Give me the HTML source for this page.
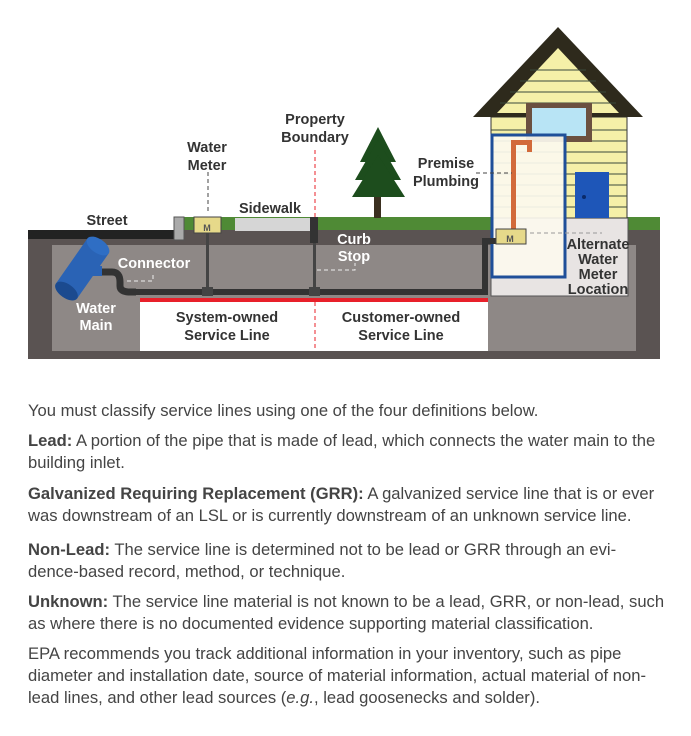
<!DOCTYPE html>
<html><head><meta charset="utf-8"><style>
body{margin:0;background:#fff;width:691px;height:736px;overflow:hidden;font-family:"Liberation Sans",sans-serif;}
.t{position:absolute;left:28px;color:#444;font-size:16.6px;line-height:22px;white-space:nowrap;}
.t b{color:#444;}
</style></head><body>
<svg width="691" height="380" style="position:absolute;left:0;top:0" font-family="Liberation Sans, sans-serif" font-weight="bold">
<rect x="28" y="230" width="632" height="129" fill="#5a5352"/>
<rect x="52" y="245" width="584" height="106" fill="#8e8886"/>
<rect x="28" y="230" width="148" height="9" fill="#222"/>
<rect x="184" y="217" width="476" height="13" fill="#4f8a35"/>
<rect x="174" y="217" width="10" height="23" fill="#aaa" stroke="#555"/>
<rect x="235" y="218" width="75" height="13" fill="#d6d6d6"/>
<rect x="310" y="217" width="8" height="26" fill="#333"/>
<rect x="491" y="218" width="137" height="78" fill="#e8e4e3" stroke="#555"/>
<rect x="491" y="117" width="136" height="101" fill="#f5f0a8" stroke="#333"/>
<g stroke="#3b4a3b" stroke-width="1">
<line x1="491" y1="130" x2="627" y2="130"/><line x1="491" y1="141" x2="627" y2="141"/><line x1="491" y1="152" x2="627" y2="152"/><line x1="491" y1="163" x2="627" y2="163"/><line x1="491" y1="174" x2="627" y2="174"/><line x1="491" y1="185" x2="627" y2="185"/><line x1="491" y1="196" x2="627" y2="196"/><line x1="491" y1="207" x2="627" y2="207"/>
</g>
<polygon points="558,27 473,117 643,117" fill="#2e2a1c"/>
<polygon points="558,48 497,113 619,113" fill="#f5f0a8"/>
<g stroke="#3b4a3b"><line x1="530" y1="70" x2="586" y2="70"/><line x1="520" y1="81" x2="596" y2="81"/><line x1="510" y1="92" x2="606" y2="92"/><line x1="500" y1="103" x2="616" y2="103"/></g>
<rect x="526" y="103" width="66" height="39" fill="#6b5040"/>
<rect x="532" y="108" width="54" height="28" fill="#b8e4f5"/>
<rect x="575" y="172" width="34" height="46" fill="#1e56b8"/>
<circle cx="584" cy="197" r="2" fill="#0a2a6a"/>
<rect x="492" y="135" width="73" height="142" fill="#fbf8ee" fill-opacity="0.92" stroke="#1f4f99" stroke-width="3"/>
<rect x="511" y="140" width="5" height="90" fill="#d26a3a"/>
<rect x="511" y="140" width="20" height="5" fill="#d26a3a"/>
<rect x="527" y="140" width="5" height="12" fill="#d26a3a"/>
<rect x="374" y="195" width="7" height="23" fill="#3b3020"/>
<polygon points="378,127 360,162 396,162" fill="#1d4d1d"/>
<polygon points="378,140 355,180 401,180" fill="#1d4d1d"/>
<polygon points="378,155 352,197 405,197" fill="#1d4d1d"/>
<rect x="136" y="289" width="351" height="6" fill="#333"/>
<rect x="482" y="238" width="6" height="57" fill="#333"/>
<rect x="482" y="238" width="16" height="6" fill="#333"/>
<rect x="206" y="233" width="3" height="57" fill="#444"/>
<rect x="313" y="243" width="3" height="47" fill="#444"/>
<rect x="202" y="287" width="11" height="9" fill="#444"/>
<rect x="309" y="287" width="11" height="9" fill="#444"/>
<path d="M100,272 L112,272 Q120,272 120,282 L120,286 Q120,292 130,292 L136,292" stroke="#333" stroke-width="7" fill="none"/>
<g transform="rotate(-55 80 270)"><rect x="55" y="258" width="55" height="26" fill="#2a63b5"/><ellipse cx="55" cy="271" rx="7" ry="13" fill="#1b4a8f"/><ellipse cx="110" cy="271" rx="7" ry="13" fill="#2f6ec4"/></g>
<rect x="88" y="266" width="14" height="10" fill="#2a63b5"/>
<rect x="194" y="217" width="27" height="16" fill="#e6d98a" stroke="#444"/>
<text x="207" y="231" font-size="9" fill="#555" text-anchor="middle">M</text>
<rect x="496" y="229" width="30" height="15" fill="#e6d98a" stroke="#444"/>
<text x="510" y="242" font-size="9" fill="#555" text-anchor="middle">M</text>
<rect x="140" y="302" width="348" height="49" fill="#fff"/>
<rect x="140" y="298" width="348" height="4" fill="#e8202a"/>
<line x1="315" y1="150" x2="315" y2="217" stroke="#e8202a" stroke-dasharray="4,3"/>
<line x1="315" y1="302" x2="315" y2="351" stroke="#e8202a" stroke-dasharray="4,3"/>
<g stroke="#444" stroke-dasharray="4,3" fill="none">
<line x1="208" y1="172" x2="208" y2="212"/>
<line x1="476" y1="173" x2="512" y2="173"/>
</g>
<g stroke="#eee" stroke-dasharray="4,3" fill="none">
<polyline points="127,281 153,281 153,272"/>
<polyline points="317,270 355,270 355,263"/>
<line x1="530" y1="233" x2="602" y2="233" stroke="#999"/>
</g>
<g fill="#333" font-size="14.5" text-anchor="middle">
<text x="207" y="152">Water</text><text x="207" y="170">Meter</text>
<text x="315" y="124">Property</text><text x="315" y="142">Boundary</text>
<text x="270" y="213">Sidewalk</text>
<text x="107" y="225">Street</text>
<text x="446" y="168">Premise</text><text x="446" y="186">Plumbing</text>
<text x="598" y="249">Alternate</text><text x="598" y="264">Water</text><text x="598" y="279">Meter</text><text x="598" y="294">Location</text>
<text x="227" y="322">System-owned</text><text x="227" y="340">Service Line</text>
<text x="401" y="322">Customer-owned</text><text x="401" y="340">Service Line</text>
</g>
<g fill="#fff" font-size="14.5" text-anchor="middle">
<text x="154" y="268">Connector</text>
<text x="96" y="313">Water</text><text x="96" y="330">Main</text>
<text x="354" y="244">Curb</text><text x="354" y="261">Stop</text>
</g>
</svg>
<div class="t" style="top:400px">You must classify service lines using one of the four definitions below.</div>
<div class="t" style="top:430px"><b>Lead:</b> A portion of the pipe that is made of lead, which connects the water main to the<br>building inlet.</div>
<div class="t" style="top:483px"><b>Galvanized Requiring Replacement (GRR):</b> A galvanized service line that is or ever<br>was downstream of an LSL or is currently downstream of an unknown service line.</div>
<div class="t" style="top:539px"><b>Non-Lead:</b> The service line is determined not to be lead or GRR through an evi-<br>dence-based record, method, or technique.</div>
<div class="t" style="top:591px"><b>Unknown:</b> The service line material is not known to be a lead, GRR, or non-lead, such<br>as where there is no documented evidence supporting material classification.</div>
<div class="t" style="top:643px">EPA recommends you track additional information in your inventory, such as pipe<br>diameter and installation date, source of material information, actual material of non-<br>lead lines, and other lead sources (<i>e.g.</i>, lead goosenecks and solder).</div>
</body></html>
